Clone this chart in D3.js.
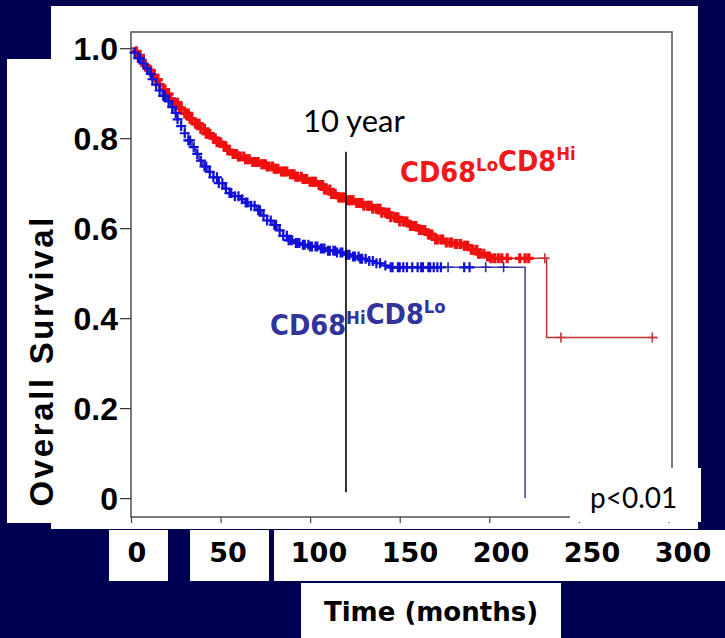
<!DOCTYPE html>
<html>
<head>
<meta charset="utf-8">
<script src="https://cdn.jsdelivr.net/npm/d3@7"></script>
<style>
  html, body { margin: 0; padding: 0; background: #000050; }
  svg { display: block; }
</style>
</head>
<body>
<svg id="chart" width="725" height="638"></svg>
<script>
// Kaplan–Meier steps, [months, overall survival]
const loHiSteps = [
  [0,1.000],[2,0.993],[4,0.984],[6,0.973],[8,0.962],[10,0.951],[12,0.940],[14,0.930],
  [16,0.919],[18,0.908],[20,0.898],[22,0.888],[24,0.879],[27,0.867],[30,0.855],[33,0.843],
  [36,0.832],[39,0.821],[42,0.810],[45,0.800],[48,0.791],[51,0.782],[54,0.773],[57,0.765],
  [60,0.759],[64,0.753],[68,0.747],[72,0.742],[76,0.737],[80,0.732],[84,0.726],[88,0.720],
  [92,0.714],[96,0.709],[100,0.703],[104,0.696],[108,0.686],[112,0.676],[116,0.668],[120,0.662],
  [125,0.656],[130,0.650],[135,0.643],[140,0.634],[145,0.624],[150,0.615],[155,0.605],[160,0.596],
  [165,0.586],[170,0.575],[175,0.568],[180,0.565],[185,0.561],[190,0.552],[194,0.543],[198,0.537],
  [201,0.533],[232,0.357],[294,0.357]
];
const hiLoSteps = [
  [0,1.000],[2,0.990],[4,0.978],[6,0.966],[8,0.955],[10,0.943],[12,0.931],[14,0.919],
  [16,0.906],[18,0.894],[20,0.882],[22,0.869],[24,0.856],[26,0.842],[28,0.827],[30,0.811],
  [32,0.795],[34,0.780],[36,0.765],[38,0.750],[40,0.737],[43,0.725],[46,0.713],[49,0.700],
  [52,0.688],[55,0.678],[58,0.671],[61,0.664],[64,0.657],[67,0.650],[70,0.640],[73,0.628],
  [76,0.617],[79,0.607],[82,0.595],[85,0.583],[88,0.573],[91,0.567],[95,0.563],[100,0.559],
  [105,0.555],[110,0.550],[115,0.546],[120,0.541],[124,0.537],[128,0.532],[132,0.527],[136,0.522],
  [140,0.517],[144,0.513],[220,0.000]
];

// censored cases, months
const loHiCensored = [
  3,5,6,8,10,11,13,14,15,16,18,19,20,21,22,24,25,26,27,28,30,31,32,33,34,36,37,38,39,41,42,
  43,44,46,47,48,49,50,52,53,54,55,57,58,59,60,61,63,64,65,66,68,69,70,71,73,74,75,76,77,
  79,80,81,82,84,85,86,87,89,90,91,92,93,95,96,97,98,100,101,102,103,105,106,107,108,109,
  111,112,113,114,116,117,118,119,121,122,123,124,126,127,128,129,130,132,133,134,135,137,
  138,139,140,142,143,144,145,147,148,149,150,152,153,154,156,157,158,159,161,162,163,164,
  166,167,168,170,171,173,174,176,178,179,181,182,184,186,187,188,190,191,193,194,195,197,
  199,200,201,203,205,207,210,217,220,222,231,240,291
];
const hiLoCensored = [
  2,4,5,7,9,11,12,14,16,18,19,21,23,25,26,28,30,32,33,35,37,39,41,42,44,46,48,49,51,53,55,
  56,58,60,62,64,65,67,69,71,72,74,76,78,80,81,83,85,87,88,89,90,92,93,94,96,97,99,100,101,
  103,104,106,107,108,110,111,113,114,115,117,118,120,121,122,124,125,127,128,129,131,133,
  135,137,139,142,145,146,149,150,152,154,157,160,162,163,166,167,169,171,173,177,186,189,
  198,208
];

const yTicks = [0, 0.2, 0.4, 0.6, 0.8, 1.0];
const xTicks = [0, 50, 100, 150, 200, 250, 300];
const timeLabels = ["0", "50", "100", "150", "200", "250", "300"];
const tenYearMonths = 120;

const svg = d3.select("#chart");
const navy = "#000050";

// white panels on the navy slide
const panels = [
  [51, 6, 647, 523], [7, 59, 60, 464],
  [109, 530, 59, 51], [190, 530, 79, 51], [274, 530, 451, 51],
  [301, 583, 260, 55]
];
svg.append("rect").attr("width", 725).attr("height", 638).attr("fill", navy);
svg.selectAll("rect.panel").data(panels).join("rect")
  .attr("class", "panel")
  .attr("x", d => d[0]).attr("y", d => d[1])
  .attr("width", d => d[2]).attr("height", d => d[3])
  .attr("fill", "#fff");

// plot scales
const x = d3.scaleLinear().domain([0, 302]).range([131, 672]);
const y = d3.scaleLinear().domain([-0.042, 1.036]).range([517, 32]);

// frame
svg.append("rect")
  .attr("x", x(0)).attr("y", y(1.036))
  .attr("width", x(302) - x(0)).attr("height", y(-0.042) - y(1.036))
  .attr("fill", "none").attr("stroke", "#5a5a5a").attr("stroke-width", 1.6);

// y axis
const yAxis = svg.append("g")
  .attr("transform", `translate(${x(0)},0)`)
  .call(d3.axisLeft(y).tickValues(yTicks).tickSize(11).tickPadding(2)
    .tickFormat(d => d === 0 ? "0" : d3.format(".1f")(d)));
yAxis.select(".domain").remove();
yAxis.selectAll(".tick line").attr("stroke", "#333").attr("stroke-width", 1.2);
yAxis.selectAll(".tick text")
  .attr("fill", "#000")
  .attr("font-family", "'Liberation Sans', Arial, sans-serif")
  .attr("font-weight", "bold")
  .attr("font-size", 32)
  .attr("dy", "0.36em");

// x axis ticks along the frame bottom
const xAxis = svg.append("g")
  .attr("transform", `translate(0,${y(-0.042)})`)
  .call(d3.axisBottom(x).tickValues(xTicks).tickSize(6).tickFormat(""));
xAxis.select(".domain").remove();
xAxis.selectAll(".tick line").attr("stroke", "#444").attr("stroke-width", 1.2);

// survival curves
const stepLine = d3.line().x(d => x(d[0])).y(d => y(d[1])).curve(d3.curveStepAfter);
const bis = d3.bisector(d => d[0]).right;
const survAt = (steps, t) => steps[Math.max(0, bis(steps, t) - 1)][1];
const crossPath = (t, s, hw, hh) => {
  const px = x(t), py = y(s);
  return `M${px - hw},${py}H${px + hw}M${px},${py - hh}V${py + hh}`;
};
// a censor mark is "isolated" when no other mark lies within 3 months
const isolated = (arr, i) =>
  (i === 0 || arr[i] - arr[i - 1] > 3) && (i === arr.length - 1 || arr[i + 1] - arr[i] > 3);

function drawGroup(steps, censored, style) {
  const g = svg.append("g");
  g.append("path").attr("d", stepLine(steps))
    .attr("fill", "none").attr("stroke", style.line).attr("stroke-width", 1.5);
  g.selectAll("path.mark").data(censored).join("path")
    .attr("class", "mark")
    .attr("d", t => crossPath(t, survAt(steps, t), style.hw, style.hh))
    .attr("stroke", (t, i) => isolated(censored, i) ? style.sparse : style.mark)
    .attr("stroke-width", (t, i) => isolated(censored, i) ? 1.6 : style.width)
    .attr("fill", "none");
}
drawGroup(loHiSteps, loHiCensored,
  { line: "#c43030", mark: "#f01010", sparse: "#c03535", width: 3.2, hw: 5, hh: 5 });
drawGroup(hiLoSteps, hiLoCensored,
  { line: "#3c3ca6", mark: "#1010d8", sparse: "#2a2aa8", width: 2.2, hw: 5, hh: 5 });

// 10 year marker
svg.append("line")
  .attr("x1", x(tenYearMonths)).attr("x2", x(tenYearMonths))
  .attr("y1", y(0.77)).attr("y2", y(0.013))
  .attr("stroke", "#000").attr("stroke-width", 1.6);
svg.append("text")
  .attr("x", 303).attr("y", 132)
  .attr("font-family", "Lato, 'Open Sans', sans-serif")
  .attr("font-size", 31).attr("fill", "#000")
  .text("10 year");

// group labels
function groupLabel(px, py, parts, color) {
  const t = svg.append("text")
    .attr("x", px).attr("y", py)
    .attr("fill", color)
    .attr("font-family", "'DejaVu Sans', sans-serif")
    .attr("font-weight", "bold")
    .attr("transform", `translate(${px},0) scale(0.92,1) translate(${-px},0)`);
  parts.forEach(([txt, sup]) => {
    t.append("tspan").attr("font-size", 28).text(txt);
    t.append("tspan").attr("font-size", 18).attr("dy", -11).text(sup);
    t.append("tspan").attr("font-size", 28).attr("dy", 11).text("");
  });
}
groupLabel(400, 182, [["CD68", "Lo"], ["CD8", "Hi"]], "#f01818");
groupLabel(270, 335, [["CD68", "Hi"], ["CD8", "Lo"]], "#33339c");

// p value box
svg.append("rect").attr("x", 570).attr("y", 468).attr("width", 131).attr("height", 54).attr("fill", "#fff");
svg.append("text")
  .attr("x", 590).attr("y", 508)
  .attr("font-family", "Lato, 'Open Sans', sans-serif")
  .attr("font-size", 28).attr("fill", "#000")
  .text("p<0.01");

// axis titles
svg.append("text")
  .attr("transform", "translate(53,362) rotate(-90)")
  .attr("text-anchor", "middle")
  .attr("font-family", "'Liberation Sans', Arial, sans-serif")
  .attr("font-weight", "bold").attr("font-size", 33)
  .attr("textLength", 289).attr("lengthAdjust", "spacing")
  .attr("fill", "#000")
  .text("Overall Survival");

const xLabel = d3.scaleLinear().domain([0, 300]).range([137, 683]);
svg.selectAll("text.time").data(xTicks).join("text")
  .attr("class", "time")
  .attr("x", d => xLabel(d)).attr("y", 562)
  .attr("text-anchor", "middle")
  .attr("font-family", "'DejaVu Sans', sans-serif")
  .attr("font-weight", "bold").attr("font-size", 27)
  .attr("fill", "#000")
  .text((d, i) => timeLabels[i]);

svg.append("text")
  .attr("x", 431).attr("y", 621)
  .attr("text-anchor", "middle")
  .attr("font-family", "'DejaVu Sans', sans-serif")
  .attr("font-weight", "bold").attr("font-size", 26)
  .attr("fill", "#000")
  .text("Time (months)");
</script>
</body>
</html>
